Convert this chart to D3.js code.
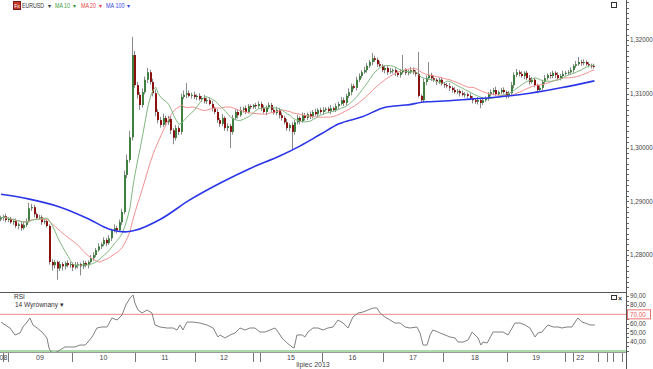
<!DOCTYPE html>
<html>
<head>
<meta charset="utf-8">
<script src="https://cdn.jsdelivr.net/npm/d3@7"></script>
<style>
body { margin: 0; background: #fff; }
svg { display: block; font-family: "Liberation Sans", Arial, sans-serif; }
</style>
</head>
<body>
<div id="chart"></div>
<script>
// hourly EURUSD closes, in pips (1.2869 -> 12869)
var firstOpen = 12866;
var closes = [
  12869,12872,12865,12867,12861,12863,12854,12857,12850,12856,
  12863,12887,12889,12876,12869,12870,12861,12863,12854,12787,
  12781,12787,12775,12783,12779,12785,12781,12783,12777,12781,
  12783,12779,12785,12781,12787,12794,12800,12809,12816,12820,
  12828,12822,12831,12846,12850,12846,12861,12880,12949,12977,
  13019,13172,13116,13098,13079,13103,13126,13140,13122,13101,
  13066,13051,13042,13055,13047,13053,13032,13018,13036,13029,
  13094,13098,13101,13096,13098,13094,13096,13090,13092,13086,
  13088,13081,13073,13066,13051,13044,13055,13036,13040,13029,
  13055,13066,13060,13070,13073,13066,13077,13075,13079,13077,
  13081,13073,13066,13075,13079,13070,13064,13070,13060,13055,
  13047,13036,13042,13029,13047,13055,13049,13060,13055,13062,
  13058,13066,13062,13070,13066,13070,13072,13068,13073,13070,
  13077,13081,13088,13083,13096,13103,13114,13111,13126,13133,
  13140,13144,13152,13159,13166,13163,13155,13152,13144,13148,
  13140,13142,13144,13139,13135,13140,13144,13139,13140,13144,
  13140,13137,13096,13088,13122,13129,13135,13129,13126,13122,
  13126,13118,13116,13114,13111,13107,13103,13105,13101,13098,
  13099,13096,13092,13088,13085,13088,13083,13088,13092,13099,
  13103,13107,13099,13103,13107,13103,13096,13101,13116,13135,
  13140,13137,13133,13139,13129,13122,13126,13116,13107,13111,
  13122,13129,13135,13133,13139,13135,13129,13133,13137,13139,
  13140,13144,13152,13155,13159,13157,13159,13155,13153,13152,
  13150
];
// upper / lower wick length in pips
var wickUp = [
  4,3,5,3,4,2,5,3,4,6, 5,10,6,4,3,5,4,3,4,3, 5,4,3,6,4,3,5,4,3,6,
  4,3,5,4,3,6,5,4,6,3, 5,4,6,3,7,4,5,6,8,10, 12,34,8,6,5,7,6,8,5,6,
  7,5,6,8,4,6,5,4,6,5, 6,8,19,5,4,6,3,5,4,6, 5,4,6,3,5,4,7,3,5,4,
  6,5,4,6,3,5,4,3,2,4, 5,4,6,3,5,4,3,6,4,5, 4,6,3,5,4,6,3,5,4,3,
  5,4,6,3,4,5,3,4,6,3, 5,4,6,5,4,7,5,4,6,5, 4,6,5,4,10,5,4,6,3,5,
  4,6,3,5,4,6,28,4,5,6, 5,4,41,3,6,5,24,4,5,3, 4,5,3,4,6,3,5,4,3,5,
  4,3,5,4,3,6,4,5,3,4, 5,4,6,3,4,5,3,4,6,5, 6,4,5,3,4,6,5,4,3,5,
  4,6,3,5,4,3,5,4,6,3, 4,5,3,6,9,4,5,3,4,3, 4
];
var wickDn = [
  3,5,4,4,3,5,4,6,5,3, 4,3,5,6,4,3,5,4,3,5, 10,6,21,5,8,6,4,5,7,4,
  6,17,5,4,6,3,5,4,3,5, 4,6,3,5,4,6,3,5,4,6, 5,6,5,7,9,5,4,6,5,6,
  8,6,5,4,6,5,7,12,5,6, 5,4,6,3,5,4,6,3,5,4, 5,3,6,4,5,6,4,5,6,30,
  5,4,6,3,5,4,3,4,3,5, 4,5,3,6,4,5,3,4,6,5, 4,5,6,34,5,4,6,3,5,4,
  5,4,3,6,4,5,3,4,6,3, 4,5,3,6,5,4,6,3,5,4, 4,3,5,4,6,4,5,3,4,6,
  5,3,4,6,4,5,3,4,5,3, 4,5,3,5,4,6,3,5,4,6, 4,3,5,4,6,5,3,4,6,3,
  5,4,3,6,4,5,10,4,3,5, 4,6,3,5,4,3,5,4,3,6, 4,5,3,6,4,5,3,4,6,3,
  5,4,3,5,4,6,3,4,5,3, 4,3,5,4,3,5,4,3,4,5, 3
];
// MA 100 (candle index -> pips)
var ma100Idx = [0,11,23,34,42,48,52,62,73,85,97,108,116,124,131,140,149,157,165,170,182,193,205,217,230];
var ma100Val = [12913,12904,12889,12867,12848,12843,12846,12867,12902,12934,12962,12984,13003,13025,13044,13057,13075,13079,13085,13086,13090,13094,13101,13111,13124];

// RSI (14) (candle index -> value)
var rsiIdx = [0,1.6,3.5,5.4,7.4,8.5,10.1,11.2,12.4,14,15.9,17.8,18.6,19.4,20.9,22.9,24.8,26.7,28.7,30.6,
  32.6,33.7,35.3,37.2,39.1,41.1,43,45,46.9,48.4,50,51.2,51.9,53.1,54.7,56.6,58.5,59.7,61.6,64.3,
  66.7,68.2,69.4,70.5,72.1,74.4,77.1,79.8,82.2,84.1,84.9,86.8,88.8,90.7,92.6,94.6,96.5,98.4,100.4,102.3,
  104.3,106.2,107.4,108.9,110.9,112.8,113.6,114.7,116.7,117.8,119,120.9,122.9,124.8,126.7,128.7,130.6,132.6,134.5,136.4,
  138.4,140.3,142.2,144.2,145.7,146.9,148.8,150.8,152.7,154.7,156.6,158.5,161.2,162.4,163.6,165.1,166.3,167.4,169.4,170.2,
  172.1,174,176,177.1,179.1,181,182.6,183.7,184.9,186,186.8,188.4,189.5,190.7,192.6,194.6,196.5,198.1,199.2,201.2,
  203.1,205,207,208.1,209.7,210.9,212,214,215.9,217.4,219.4,221.3,222.5,223.6,225.2,226.4,228.3,230.2];
var rsiVal = [61.6,58.4,55.1,47.5,49.6,56.2,61.6,66,58.4,55.1,50.7,44.2,33.3,28.9,27.8,31.1,34.4,34.4,34.4,36.5,
  36.5,39.8,45.3,55.1,56.2,56.2,66,63.8,69.3,80.2,87.8,91.1,82.4,74.7,71.5,74.7,71.5,58.4,56.2,55.1,
  55.1,52.9,58.4,52.9,61.6,61.6,60.5,58.4,55.1,45.3,47.5,44.2,47.5,49.6,55.1,52.9,55.1,55.1,50.7,50.7,
  52.9,55.1,50.7,44.2,38.7,34.4,33.3,47.5,47.5,45.3,50.7,55.1,55.1,52.9,55.1,56.2,63.8,60.5,55.1,67.1,
  71.5,72.5,74.7,76.9,76.9,71.5,67.1,63.8,60.5,60.5,56.2,55.1,56.2,49.6,36.5,36.5,47.5,52.9,50.7,49.6,
  47.5,45.3,44.2,39.8,39.8,42,50.7,47.5,44.2,36.5,39.8,38.7,44.2,50.7,50.7,50.7,47.5,55.1,60.5,60.5,
  58.4,55.1,45.3,49.6,50.7,55.1,58.4,56.2,56.2,55.1,56.2,56.2,61.6,66,61.6,60.5,58.4,58.4];

// session separators (candle index) and day labels
var daySeps = [0.66,2.7,27.5,51.9,75.2,97.7,100.4,124.4,148.1,171.3,196.1,218.6,221.7,231.4,234.9,237.2,240.7];
var dayLabels = ['0','8','09','10','11','12','15','16','17','18','19','22'];
var dayCenters = [-0.2,1.7,15.1,39.7,63.5,86.4,112.4,136.2,159.7,183.7,207.4,224.5];

var priceTicks = [1.28,1.29,1.30,1.31,1.32];
var rsiTicks = [40,50,60,70,80,90];

var W = 653, H = 369, axisX = 626;

var svg = d3.select('#chart').append('svg')
    .attr('width', W)
    .attr('height', H);

var x = d3.scaleLinear().domain([0, 231]).range([1, 597]);
var y = d3.scaleLinear().domain([1.28, 1.32]).range([255, 40]);
var yr = d3.scaleLinear().domain([30, 90]).range([351, 296]);

var defs = svg.append('defs');
defs.append('clipPath').attr('id', 'clipMain')
    .append('rect').attr('x', 0).attr('y', 0).attr('width', axisX).attr('height', 292);
defs.append('clipPath').attr('id', 'clipRsi')
    .append('rect').attr('x', 0).attr('y', 293).attr('width', axisX).attr('height', 59);

//build candles, open = previous close
var candles = closes.map(function(c, i) {
    var o = i ? closes[i - 1] : firstOpen;
    return {
        i: i,
        o: o / 1e4,
        c: c / 1e4,
        h: (Math.max(o, c) + wickUp[i]) / 1e4,
        l: (Math.min(o, c) - wickDn[i]) / 1e4
    };
});

//simple moving average (window shrinks at the start)
function sma(n) {
    return closes.map(function(c, i) {
        var s = closes.slice(Math.max(0, i - n + 1), i + 1);
        return { i: i, v: d3.mean(s) / 1e4 };
    });
}

// main panel
var main = svg.append('g').attr('clip-path', 'url(#clipMain)');

var cg = main.selectAll('.candle')
    .data(candles)
    .enter().append('g')
    .attr('class', 'candle');

cg.append('line')
    .attr('x1', function(d) { return Math.round(x(d.i)) - 0.5; })
    .attr('x2', function(d) { return Math.round(x(d.i)) - 0.5; })
    .attr('y1', function(d) { return y(d.h); })
    .attr('y2', function(d) { return y(d.l); })
    .style('stroke', '#8a8a8a')
    .style('stroke-width', 1);

cg.append('rect')
    .attr('x', function(d) { return Math.round(x(d.i)) - 1; })
    .attr('width', 2)
    .attr('y', function(d) { return y(Math.max(d.o, d.c)); })
    .attr('height', function(d) { return Math.max(1, Math.abs(y(d.o) - y(d.c))); })
    .style('fill', function(d) { return d.c >= d.o ? '#3f7f3f' : '#8b1010'; });

var line = d3.line()
    .x(function(d) { return x(d.i); })
    .y(function(d) { return y(d.v); });

main.append('path')
    .datum(sma(20))
    .attr('d', line)
    .style('fill', 'none')
    .style('stroke', '#f29090')
    .style('stroke-width', 1);

main.append('path')
    .datum(sma(10))
    .attr('d', line)
    .style('fill', 'none')
    .style('stroke', '#80b880')
    .style('stroke-width', 1);

main.append('path')
    .datum(ma100Idx.map(function(d, k) { return { i: d, v: ma100Val[k] / 1e4 }; }))
    .attr('d', line.curve(d3.curveMonotoneX))
    .style('fill', 'none')
    .style('stroke', '#2a35e8')
    .style('stroke-width', 1.6);

// rsi panel
var rp = svg.append('g').attr('clip-path', 'url(#clipRsi)');

rp.append('line')
    .attr('x1', 0).attr('x2', axisX)
    .attr('y1', yr(70)).attr('y2', yr(70))
    .style('stroke', '#f08a8a').style('stroke-width', 1);

rp.append('line')
    .attr('x1', 0).attr('x2', axisX)
    .attr('y1', yr(30)).attr('y2', yr(30))
    .style('stroke', '#5cb85c').style('stroke-width', 1.2);

rp.append('path')
    .datum(rsiIdx.map(function(d, k) { return { i: d, v: rsiVal[k] }; }))
    .attr('d', d3.line()
        .x(function(d) { return x(d.i); })
        .y(function(d) { return yr(d.v); }))
    .style('fill', 'none')
    .style('stroke', '#808080')
    .style('stroke-width', 1);

// frame lines
svg.append('line')
    .attr('x1', 0).attr('x2', axisX)
    .attr('y1', 292.5).attr('y2', 292.5)
    .style('stroke', '#555');
svg.append('line')
    .attr('x1', 0).attr('x2', axisX)
    .attr('y1', 352.5).attr('y2', 352.5)
    .style('stroke', '#999');
svg.append('line')
    .attr('x1', axisX + 0.5).attr('x2', axisX + 0.5)
    .attr('y1', 0).attr('y2', H)
    .style('stroke', '#555');

// price axis ticks
var minor = d3.range(12730, 13280, 10).map(function(d) { return d / 1e4; });
svg.selectAll('.ptick')
    .data(minor.filter(function(d) { return y(d) > 1 && y(d) < 291; }))
    .enter().append('line')
    .attr('x1', axisX + 1).attr('x2', axisX + 3)
    .attr('y1', function(d) { return Math.round(y(d)) + 0.5; })
    .attr('y2', function(d) { return Math.round(y(d)) + 0.5; })
    .style('stroke', '#666');

svg.selectAll('.plabel')
    .data(priceTicks)
    .enter().append('text')
    .attr('x', axisX + 4)
    .attr('y', function(d) { return y(d) + 2.3; })
    .style('font-size', '6.3px')
    .style('fill', '#444')
    .text(function(d) { return d3.format('.5f')(d).replace('.', ','); });

// rsi axis
svg.selectAll('.rtick')
    .data(d3.range(30, 95, 5))
    .enter().append('line')
    .attr('x1', axisX + 1).attr('x2', axisX + 3)
    .attr('y1', function(d) { return Math.round(yr(d)) + 0.5; })
    .attr('y2', function(d) { return Math.round(yr(d)) + 0.5; })
    .style('stroke', '#666');

svg.selectAll('.rlabel')
    .data(rsiTicks.filter(function(d) { return d !== 70; }))
    .enter().append('text')
    .attr('x', axisX + 4)
    .attr('y', function(d) { return yr(d) + 2.3; })
    .style('font-size', '6.3px')
    .style('fill', '#444')
    .text(function(d) { return d3.format('.2f')(d).replace('.', ','); });

svg.append('rect')
    .attr('x', axisX + 1.5).attr('y', yr(70) - 4.5)
    .attr('width', 23).attr('height', 9)
    .style('fill', '#fff').style('stroke', '#f07070');
svg.append('text')
    .attr('x', axisX + 4).attr('y', yr(70) + 2.3)
    .style('font-size', '6.3px').style('fill', '#e85a5a')
    .text('70,00');

// day axis
svg.selectAll('.dsep')
    .data(daySeps)
    .enter().append('line')
    .attr('x1', function(d) { return Math.round(x(d)) + 0.5; })
    .attr('x2', function(d) { return Math.round(x(d)) + 0.5; })
    .attr('y1', 353).attr('y2', 362)
    .style('stroke', '#777');

svg.selectAll('.dlabel')
    .data(dayLabels)
    .enter().append('text')
    .attr('x', function(d, k) { return Math.max(x(dayCenters[k]), 1.5); })
    .attr('y', 360)
    .attr('text-anchor', 'middle')
    .style('font-size', '7px')
    .style('fill', '#444')
    .text(function(d) { return d; });

svg.append('text')
    .attr('x', 313).attr('y', 367)
    .attr('text-anchor', 'middle')
    .style('font-size', '7px')
    .style('fill', '#444')
    .text('lipiec 2013');

// header legend
svg.append('rect')
    .attr('x', 13.5).attr('y', 1.5).attr('width', 7).attr('height', 8)
    .style('fill', '#c0392b').style('stroke', '#7a1a1a');
svg.append('text')
    .attr('x', 17).attr('y', 7.5).attr('text-anchor', 'middle')
    .style('font-size', '5px').style('fill', '#fff').text('Fx');

var legend = [
    { t: 'EURUSD', x: 22, w: 22, ax: 47.5, c: '#333' },
    { t: 'MA 10', x: 55, w: 15, ax: 73, c: '#3a9a3a' },
    { t: 'MA 20', x: 81, w: 15, ax: 99, c: '#e84545' },
    { t: 'MA 100', x: 106, w: 18.5, ax: 127, c: '#3848e0' }
];
var lg = svg.selectAll('.leg')
    .data(legend)
    .enter().append('g');
lg.append('text')
    .attr('x', function(d) { return d.x; })
    .attr('y', 8)
    .attr('textLength', function(d) { return d.w; })
    .attr('lengthAdjust', 'spacingAndGlyphs')
    .style('font-size', '6.3px')
    .style('fill', function(d) { return d.c; })
    .text(function(d) { return d.t; });
lg.append('text')
    .attr('x', function(d) { return d.ax; })
    .attr('y', 8)
    .style('font-size', '6px')
    .style('fill', function(d) { return d.c; })
    .text('\u25BE');

svg.append('text')
    .attr('x', 14).attr('y', 299)
    .style('font-size', '6.5px').style('fill', '#333').text('RSI');
svg.append('text')
    .attr('x', 15).attr('y', 307)
    .style('font-size', '6.5px').style('fill', '#333').text('14 Wyrównany \u25BE');

// window icons
svg.append('rect')
    .attr('x', 611.5).attr('y', 2.5).attr('width', 5).attr('height', 5)
    .style('fill', 'none').style('stroke', '#333');
svg.append('rect')
    .attr('x', 611.5).attr('y', 295.5).attr('width', 5).attr('height', 4)
    .style('fill', 'none').style('stroke', '#333');
svg.append('text')
    .attr('x', 618).attr('y', 300.5)
    .style('font-size', '7px').style('font-weight', 'bold').style('fill', '#333').text('\u00D7');
</script>
</body>
</html>
